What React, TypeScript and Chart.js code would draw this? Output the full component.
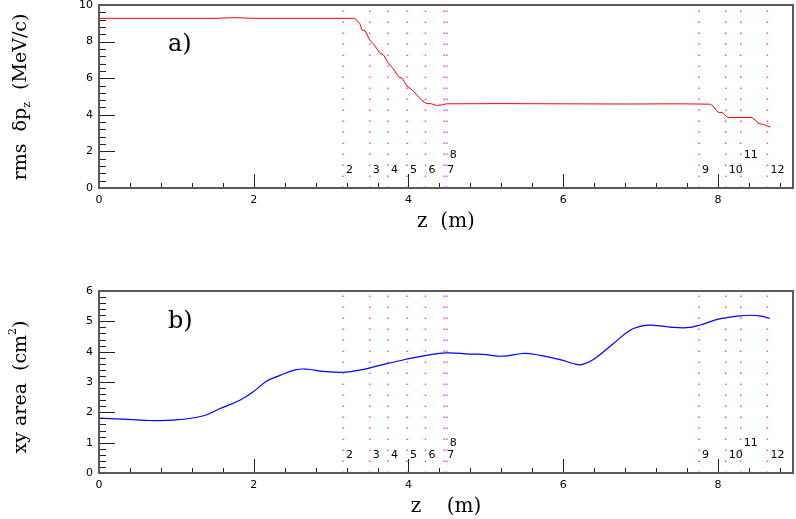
import React, { useEffect, useRef } from "react";
import { Chart, registerables } from "chart.js";

Chart.register(...registerables);

// ---------- data ----------
const zTop = [0, 1.5, 1.75, 2.0, 3.305, 3.37, 3.4, 3.44, 3.5, 3.56, 3.63, 3.68, 3.74, 3.8, 3.87, 3.92, 3.98, 4.05, 4.11, 4.17, 4.23, 4.3, 4.36, 4.43, 4.49, 5.2, 6.0, 6.8, 7.5, 7.9, 7.94, 7.98, 8.005, 8.06, 8.09, 8.13, 8.44, 8.48, 8.53, 8.59, 8.64, 8.68];
const dpzTop = [9.27, 9.27, 9.31, 9.27, 9.27, 9.0, 8.63, 8.59, 8.08, 7.81, 7.36, 7.26, 6.81, 6.54, 6.08, 5.99, 5.57, 5.35, 5.07, 4.8, 4.62, 4.6, 4.51, 4.54, 4.6, 4.61, 4.6, 4.59, 4.6, 4.58, 4.47, 4.25, 4.13, 4.13, 3.98, 3.85, 3.85, 3.71, 3.52, 3.47, 3.38, 3.34];

const zBot = [0, 0.44, 0.65, 0.95, 1.34, 1.56, 1.82, 1.99, 2.16, 2.34, 2.55, 2.7, 2.9, 3.15, 3.37, 3.63, 3.97, 4.23, 4.49, 4.79, 4.96, 5.22, 5.48, 5.7, 5.96, 6.13, 6.24, 6.39, 6.65, 6.86, 7.04, 7.17, 7.38, 7.6, 7.77, 8.02, 8.28, 8.41, 8.54, 8.67];
const areaBot = [1.81, 1.76, 1.73, 1.74, 1.88, 2.12, 2.4, 2.67, 3.02, 3.22, 3.41, 3.42, 3.35, 3.32, 3.39, 3.55, 3.75, 3.88, 3.96, 3.92, 3.91, 3.85, 3.94, 3.88, 3.74, 3.61, 3.57, 3.74, 4.27, 4.7, 4.86, 4.87, 4.81, 4.79, 4.88, 5.08, 5.18, 5.2, 5.18, 5.1];

const markerZ = [3.154, 3.499, 3.736, 3.982, 4.22, 4.461, 4.496, 7.756, 8.101, 8.295, 8.639];
const markerLabels = ["2", "3", "4", "5", "6", "7", "8", "9", "10", "11", "12"];
const markerRaised = [false, false, false, false, false, false, true, false, false, true, false];

const xTickValues = [0, 2, 4, 6, 8];
const yTopTickValues = [0, 2, 4, 6, 8, 10];
const yBotTickValues = [0, 1, 2, 3, 4, 5, 6];

const X_MAX = 8.97;
const Y_TOP_MAX = 10;
const Y_BOT_MAX = 6;

type Part = { t: string; s?: "sub" | "sup" };

function drawRich(ctx: CanvasRenderingContext2D, parts: Part[], x: number, y: number, size: number, rotate: boolean) {
  ctx.save();
  ctx.translate(x, y);
  if (rotate) ctx.rotate(-Math.PI / 2);
  const big = `${size}px "DejaVu Serif"`;
  const small = `${Math.round(size * 0.6)}px "DejaVu Serif"`;
  let w = 0;
  const widths = parts.map((p) => {
    ctx.font = p.s ? small : big;
    const m = ctx.measureText(p.t).width;
    w += m;
    return m;
  });
  let cx = -w / 2;
  ctx.textBaseline = "middle";
  ctx.textAlign = "left";
  ctx.fillStyle = "#000";
  parts.forEach((p, i) => {
    ctx.font = p.s ? small : big;
    const dy = p.s === "sub" ? size * 0.32 : p.s === "sup" ? -size * 0.42 : 0;
    ctx.fillText(p.t, cx, dy);
    cx += widths[i];
  });
  ctx.restore();
}

const decorPlugin = {
  id: "decor",
  afterDatasetsDraw(chart: any, _args: any, o: any) {
    const ctx: CanvasRenderingContext2D = chart.ctx;
    const a = chart.chartArea;
    const xs = chart.scales.x;
    const ys = chart.scales.y;
    ctx.save();
    // ticks (inside)
    ctx.strokeStyle = "#222";
    ctx.lineWidth = 1;
    ctx.beginPath();
    for (let i = 0; i * o.xMinor <= X_MAX + 1e-9; i++) {
      const v = i * o.xMinor;
      const px = Math.round(xs.getPixelForValue(v)) + 0.5;
      ctx.moveTo(px, a.bottom);
      ctx.lineTo(px, a.bottom - 5);
    }
    for (const v of xTickValues) {
      const px = Math.round(xs.getPixelForValue(v)) + 0.5;
      ctx.moveTo(px, a.bottom);
      ctx.lineTo(px, a.bottom - 14);
    }
    for (let i = 0; i * o.yMinor <= o.yMax + 1e-9; i++) {
      const v = i * o.yMinor;
      const py = Math.round(ys.getPixelForValue(v)) + 0.5;
      ctx.moveTo(a.left, py);
      ctx.lineTo(a.left + 7, py);
    }
    for (const v of o.yMajors) {
      const py = Math.round(ys.getPixelForValue(v)) + 0.5;
      ctx.moveTo(a.left, py);
      ctx.lineTo(a.left + 16, py);
    }
    ctx.stroke();
    // frame
    ctx.strokeStyle = "#5a5a5a";
    ctx.lineWidth = 2;
    ctx.strokeRect(a.left, a.top, a.right - a.left, a.bottom - a.top);
    // marker labels
    ctx.fillStyle = "#000";
    ctx.font = '11px "DejaVu Sans"';
    ctx.textAlign = "left";
    ctx.textBaseline = "middle";
    markerZ.forEach((z, i) => {
      const px = xs.getPixelForValue(z) + 3;
      const py = a.bottom - (markerRaised[i] ? o.highOff : 17.5);
      ctx.fillText(markerLabels[i], px, py);
    });
    // panel label
    ctx.font = '24px "DejaVu Serif"';
    ctx.fillText(o.panel, 168, o.panelY);
    ctx.restore();
    // titles
    drawRich(ctx, [{ t: o.xTitle }], (a.left + a.right) / 2, o.xTitleY, 20, false);
    drawRich(ctx, o.yTitle, 21, o.yTitleY, 19, true);
  },
};

function makeConfig(
  zs: number[],
  vals: number[],
  color: string,
  yMax: number,
  yTicks: number[],
  curveOpts: any,
  layoutPad: any,
  xHeight: number,
  decor: any
): any {
  const markerData: any[] = [];
  markerZ.forEach((z) => {
    markerData.push({ x: z, y: 0 }, { x: z, y: yMax }, { x: z, y: null });
  });
  return {
    type: "line",
    data: {
      datasets: [
        {
          data: markerData,
          borderColor: "#ff3cff",
          borderWidth: 1.5,
          borderDash: [1.5, 9.5],
          pointRadius: 0,
          spanGaps: false,
          tension: 0,
        },
        {
          data: zs.map((z, i) => ({ x: z, y: vals[i] })),
          borderColor: color,
          pointRadius: 0,
          ...curveOpts,
        },
      ],
    },
    options: {
      animation: false,
      responsive: false,
      events: [],
      layout: { padding: layoutPad },
      plugins: { legend: { display: false }, tooltip: { enabled: false }, decor },
      scales: {
        x: {
          type: "linear",
          min: 0,
          max: X_MAX,
          grid: { display: false, drawTicks: false },
          border: { display: false },
          ticks: { padding: 6, color: "#000", font: { family: "DejaVu Sans", size: 11 }, maxRotation: 0 },
          afterBuildTicks: (s: any) => {
            s.ticks = xTickValues.map((v) => ({ value: v }));
          },
          afterFit: (s: any) => {
            s.height = xHeight;
            s.paddingLeft = 0;
            s.paddingRight = 0;
          },
        },
        y: {
          type: "linear",
          min: 0,
          max: yMax,
          grid: { display: false, drawTicks: false },
          border: { display: false },
          ticks: { padding: 6, color: "#000", font: { family: "DejaVu Sans", size: 11 } },
          afterBuildTicks: (s: any) => {
            s.ticks = yTicks.map((v) => ({ value: v }));
          },
          afterFit: (s: any) => {
            s.width = 99;
            s.paddingTop = 0;
            s.paddingBottom = 0;
          },
        },
      },
    },
    plugins: [decorPlugin],
  };
}

export default function App() {
  const topRef = useRef<HTMLCanvasElement>(null);
  const botRef = useRef<HTMLCanvasElement>(null);

  useEffect(() => {
    const c1 = new Chart(
      topRef.current as HTMLCanvasElement,
      makeConfig(
        zTop,
        dpzTop,
        "#ff0000",
        Y_TOP_MAX,
        yTopTickValues,
        { borderWidth: 1, tension: 0 },
        { left: 0, top: 5, right: 3, bottom: 0 },
        72,
        {
          xMinor: 0.4,
          yMinor: 0.4,
          yMax: Y_TOP_MAX,
          yMajors: [2, 4, 6, 8],
          highOff: 32.5,
          panel: "a)",
          panelY: 45,
          xTitle: "z  (m)",
          xTitleY: 222,
          yTitle: [{ t: "rms  δp" }, { t: "z", s: "sub" }, { t: "  (MeV/c)" }],
          yTitleY: 97,
        }
      )
    );
    const c2 = new Chart(
      botRef.current as HTMLCanvasElement,
      makeConfig(
        zBot,
        areaBot,
        "#0000ff",
        Y_BOT_MAX,
        yBotTickValues,
        { borderWidth: 1.2, tension: 0.4 },
        { left: 0, top: 31, right: 3, bottom: 0 },
        46,
        {
          xMinor: 0.4,
          yMinor: 0.2,
          yMax: Y_BOT_MAX,
          yMajors: [1, 2, 3, 4, 5],
          highOff: 29.5,
          panel: "b)",
          panelY: 62,
          xTitle: "z    (m)",
          xTitleY: 247,
          yTitle: [{ t: "xy area  (cm" }, { t: "2", s: "sup" }, { t: ")" }],
          yTitleY: 127,
        }
      )
    );
    return () => {
      c1.destroy();
      c2.destroy();
    };
  }, []);

  return (
    <div style={{ position: "absolute", left: 0, top: 0, width: 796, height: 519, background: "#fff" }}>
      <canvas ref={topRef} width={796} height={260} style={{ display: "block" }} />
      <canvas ref={botRef} width={796} height={259} style={{ display: "block" }} />
    </div>
  );
}
